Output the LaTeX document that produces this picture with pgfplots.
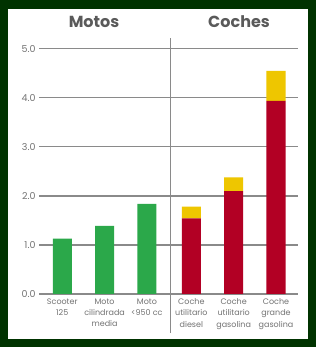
\documentclass[border=0pt]{standalone}
\usepackage{pgfplots}
\pgfplotsset{compat=1.18}
\usepackage{fontspec}
\setmainfont{Poppins}
\definecolor{bordercol}{RGB}{0,51,0}
\definecolor{barg}{RGB}{43,168,74}
\definecolor{barr}{RGB}{178,0,36}
\definecolor{bary}{RGB}{238,198,0}
\definecolor{gridc}{RGB}{138,138,138}
\definecolor{txt}{RGB}{90,90,90}
\begin{document}
\begin{tikzpicture}[x=1pt,y=1pt]
\fill[bordercol] (0,0) rectangle (316,347);
\fill[white] (8,8) rectangle (308,338);
\node[font=\bfseries\fontsize{16}{18}\selectfont, text=txt] at (94,325) {Motos};
\node[font=\bfseries\fontsize{16}{18}\selectfont, text=txt] at (239,325) {Coches};
\begin{axis}[
  at={(39pt,53pt)}, anchor=south west,
  scale only axis, width=259pt, height=256pt,
  xmin=-0.55, xmax=5.57, ymin=0, ymax=5.22,
  ybar stacked, bar width=19pt,
  axis line style={draw=none},
  major tick length=0pt,
  ytick={0,1,2,3,4,5},
  yticklabel style={/pgf/number format/fixed, /pgf/number format/fixed zerofill, /pgf/number format/precision=1, font=\fontsize{9.5}{11}\selectfont, text=txt!85},
  /pgf/number format/assume math mode=true,
  ymajorgrids, grid style={gridc, line width=1.2pt},
  xtick={0,1,2,3.05,4.05,5.05},
  xticklabels={{Scooter\\125},{Moto\\cilindrada\\media},{Moto\\<950 cc},{Coche\\utilitario\\diesel},{Coche\\utilitario\\gasolina},{Coche\\grande\\gasolina}},
  xticklabel style={align=center, font=\fontsize{8}{11.3}\selectfont, text=txt!85, yshift=-1pt},
  clip=false,
]
\addplot[fill=barg, draw=none] coordinates {(0,1.13) (1,1.39) (2,1.84) (3.05,0) (4.05,0) (5.05,0)};
\addplot[fill=barr, draw=none] coordinates {(0,0) (1,0) (2,0) (3.05,1.54) (4.05,2.10) (5.05,3.94)};
\addplot[fill=bary, draw=none] coordinates {(0,0) (1,0) (2,0) (3.05,0.24) (4.05,0.28) (5.05,0.61)};
\draw[gridc, line width=1.2pt] (axis cs:2.55,-0.8) -- (axis cs:2.55,5.22);
\end{axis}
\pgfresetboundingbox
\useasboundingbox (0,0) rectangle (316,347);
\end{tikzpicture}
\end{document}
